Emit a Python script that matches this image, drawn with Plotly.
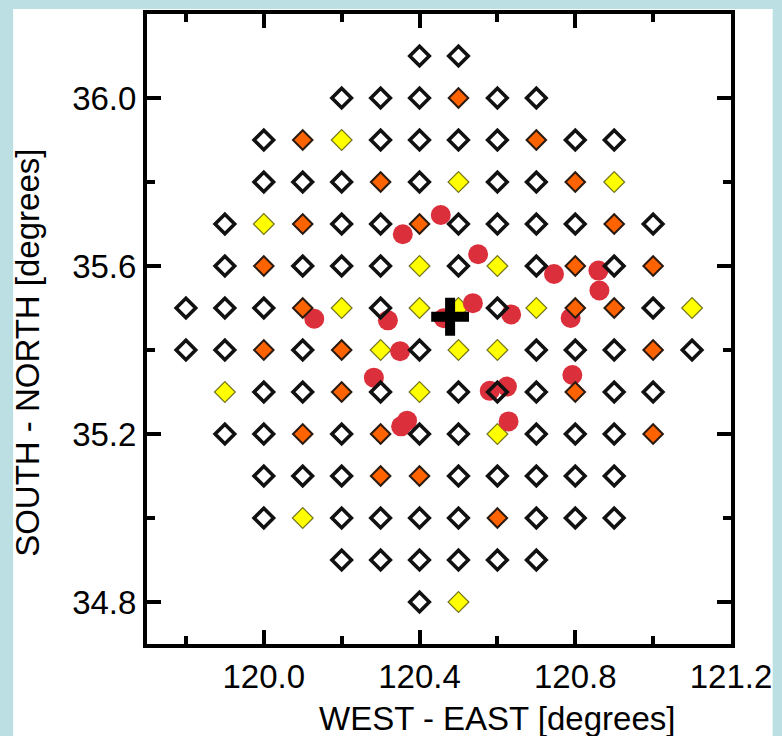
import plotly.graph_objects as go

# ---- data ----
# grid of stations: each row = (latitude, first longitude, codes) ; w = open, o = orange, y = yellow
row_lats = [36.1, 36.0, 35.9, 35.8, 35.7, 35.6, 35.5, 35.4, 35.3, 35.2, 35.1, 35.0, 34.9, 34.8]
row_start_lons = [120.4, 120.2, 120.0, 120.0, 119.9, 119.9, 119.8, 119.8, 119.9, 119.9, 120.0, 120.0, 120.2, 120.4]
row_codes = [
    "ww",
    "wwwoww",
    "woywwwwoww",
    "wwwowywwoy",
    "wyowwowwwwow",
    "wowwwywywowo",
    "wwwoywyywyoowy",
    "wwowoywyywwwow",
    "ywwowywwwoww",
    "wwowowwywwwo",
    "wwwoowwwww",
    "wywwwwowww",
    "wwwwww",
    "wy",
]
grid_step = 0.1

# red circles (events)
event_lon = [120.4545, 120.357, 120.5505, 120.7454, 120.8594, 120.862, 120.537, 120.6353,
             120.1296, 120.3188, 120.7881, 120.3501, 120.2827, 120.7925, 120.5803, 120.6244,
             120.3527, 120.368, 120.6287, 120.462]
event_lat = [35.7214, 35.6755, 35.628, 35.581, 35.589, 35.5416, 35.5116, 35.4848,
             35.4744, 35.4706, 35.4761, 35.3973, 35.3341, 35.3405, 35.3027, 35.3128,
             35.2182, 35.2317, 35.23, 35.4755]

# epicentre cross
center_lon = [120.4785]
center_lat = [35.4792]

x_tickvals = [120.0, 120.4, 120.8, 121.2]
x_ticktext = ["120.0", "120.4", "120.8", "121.2"]
y_tickvals = [34.8, 35.2, 35.6, 36.0]
y_ticktext = ["34.8", "35.2", "35.6", "36.0"]

x_title = "WEST - EAST [degrees]"
y_title = "SOUTH - NORTH [degrees]"

# ---- build station lists ----
pts = {"w": ([], []), "o": ([], []), "y": ([], [])}
for lat, lon0, codes in zip(row_lats, row_start_lons, row_codes):
    for i, c in enumerate(codes):
        pts[c][0].append(round(lon0 + i * grid_step, 3))
        pts[c][1].append(lat)

FONT = "Liberation Sans, Arial, sans-serif"
FS = 33
fig = go.Figure()

fig.add_trace(go.Scatter(
    x=pts["y"][0], y=pts["y"][1], mode="markers",
    marker=dict(symbol="diamond", size=16, color="#ffff00",
                line=dict(color="rgba(70,70,0,0.75)", width=1.2)),
    hoverinfo="skip", showlegend=False))

fig.add_trace(go.Scatter(
    x=event_lon, y=event_lat, mode="markers",
    marker=dict(symbol="circle", size=20, color="#db2f3b", line=dict(width=0)),
    hoverinfo="skip", showlegend=False))

fig.add_trace(go.Scatter(
    x=pts["o"][0], y=pts["o"][1], mode="markers",
    marker=dict(symbol="diamond", size=15, color="#ff6300",
                line=dict(color="#2a1a10", width=2)),
    hoverinfo="skip", showlegend=False))

fig.add_trace(go.Scatter(
    x=pts["w"][0], y=pts["w"][1], mode="markers",
    marker=dict(symbol="diamond-open", size=15, color="#111111",
                line=dict(width=3.6)),
    hoverinfo="skip", showlegend=False))

fig.add_trace(go.Scatter(
    x=center_lon, y=center_lat, mode="markers",
    marker=dict(symbol="cross-thin", size=27, color="#000000",
                line=dict(width=10, color="#000000")),
    hoverinfo="skip", showlegend=False))

axis_common = dict(
    showgrid=False, zeroline=False, showline=True, linecolor="black", linewidth=4,
    mirror="ticks", ticks="inside", ticklen=14, tickwidth=4, tickcolor="black",
    tickfont=dict(family=FONT, size=FS, color="black"),
)

fig.update_xaxes(
    range=[119.7, 121.2], tickmode="array", tickvals=x_tickvals, ticktext=x_ticktext,
    minor=dict(dtick=0.2, tick0=119.8, ticks="inside", ticklen=8, tickwidth=4, tickcolor="black"),
    **axis_common)
fig.update_yaxes(
    range=[34.70, 36.20], tickmode="array", tickvals=y_tickvals, ticktext=y_ticktext,
    minor=dict(dtick=0.2, tick0=34.8, ticks="inside", ticklen=8, tickwidth=4, tickcolor="black"),
    **axis_common)

L, R, T, B = 147, 46, 10, 92
W, H = 782, 736
pw, ph = W - L - R, H - T - B
plot_bottom = H - B


def px_x(p):
    return (p - L) / pw


def px_y(p):
    return (plot_bottom - p) / ph


# white page area over the light-blue background
fig.add_shape(type="rect", xref="paper", yref="paper",
              x0=px_x(12), x1=px_x(778), y0=px_y(H + 40), y1=px_y(5),
              fillcolor="white", line=dict(width=0), layer="below")

# axis titles (placed as in the original figure)
fig.add_annotation(text=x_title, xref="paper", yref="paper", x=px_x(500), y=px_y(719),
                   xanchor="center", yanchor="middle", showarrow=False,
                   font=dict(family=FONT, size=FS, color="black"))
fig.add_annotation(text=y_title, xref="paper", yref="paper", x=px_x(27), y=px_y(351),
                   xanchor="center", yanchor="middle", showarrow=False, textangle=-90,
                   font=dict(family=FONT, size=FS, color="black"))

fig.update_layout(
    width=W, height=H,
    margin=dict(l=L, r=R, t=T, b=B),
    paper_bgcolor="#bcdfe4", plot_bgcolor="white",
    font=dict(family=FONT, color="black"),
)
fig.write_html("out.html")
